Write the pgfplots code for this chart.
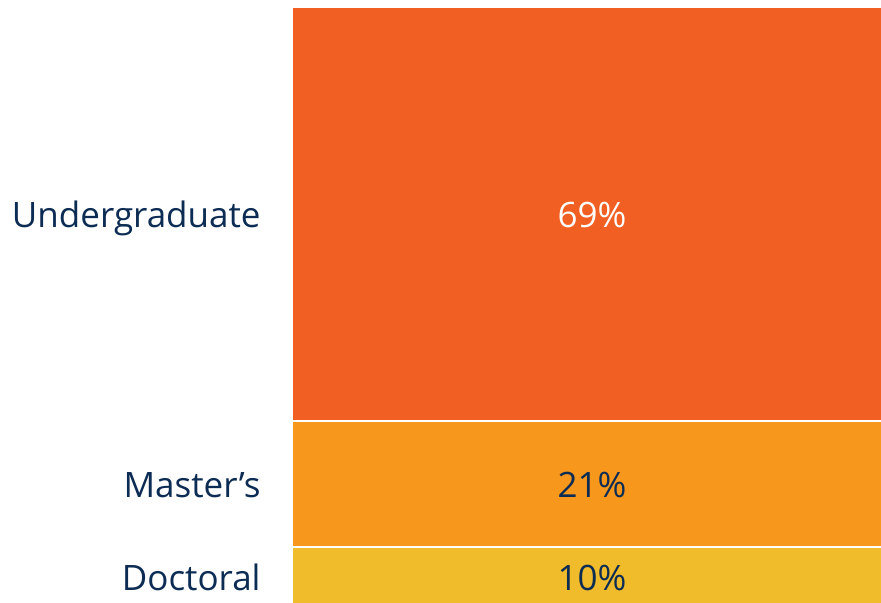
\documentclass[border=0pt]{standalone}
\usepackage{pgfplots}
\pgfplotsset{compat=1.18}
\usepackage{fontspec}
\setmainfont{Open Sans}
\definecolor{navy}{HTML}{0D2C54}
\definecolor{ugorange}{HTML}{F15F22}
\definecolor{msorange}{HTML}{F7981D}
\definecolor{docyellow}{HTML}{F0BC2B}
\begin{document}
\begin{tikzpicture}
	\useasboundingbox (0,0) rectangle (440.5pt,301.5pt);
	\begin{axis}[
			at={(146pt,-2pt)}, anchor=south west,
			scale only axis,
			width=300pt, height=300pt,
			ybar stacked,
			bar width=1,
			xmin=-0.5, xmax=0.5,
			ymin=0, ymax=100,
			xtick=\empty,
			ytick={5,20.5,65.5},
			yticklabels={Doctoral, Master’s, Undergraduate},
			yticklabel style={font=\fontsize{17.5}{20}\selectfont, text=navy, inner sep=0pt,
				text height=0.72em, text depth=0pt, xshift=-15.5pt, yshift=-3pt},
			major tick length=0pt,
			axis line style={draw=none},
			point meta=explicit symbolic,
			nodes near coords,
			every node near coord/.style={font=\fontsize{17.5}{20}\selectfont, anchor=center,
				inner sep=0pt, text height=0.72em, text depth=0pt, yshift=-3pt},
		]
		% Doctoral
		\addplot[fill=docyellow, draw=white, line width=0.6pt,
			every node near coord/.append style={text=navy}]
			coordinates {(0,10) [10\%]};
		% Master's
		\addplot[fill=msorange, draw=white, line width=0.6pt,
			every node near coord/.append style={text=navy}]
			coordinates {(0,21) [21\%]};
		% Undergraduate
		\addplot[fill=ugorange, draw=white, line width=0.6pt,
			every node near coord/.append style={text=white}]
			coordinates {(0,69) [69\%]};
	\end{axis}
\end{tikzpicture}
\end{document}
